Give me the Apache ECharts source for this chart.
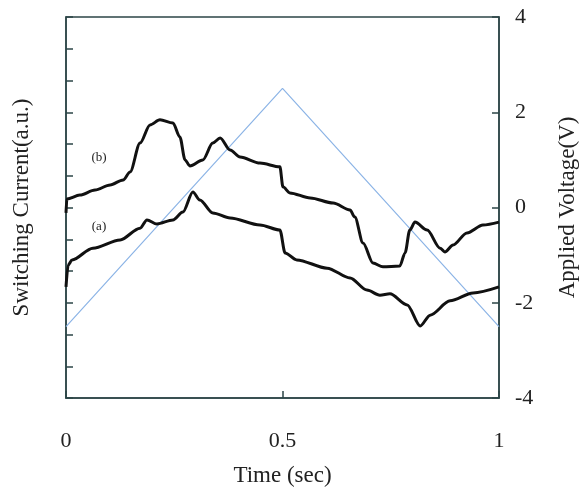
<!DOCTYPE html>
<html>
<head>
<meta charset="utf-8">
<script src="https://cdn.jsdelivr.net/npm/echarts@6/dist/echarts.min.js"></script>
<style>
  html, body { margin: 0; padding: 0; background: #ffffff; }
  #chart { width: 579px; height: 496px; }
</style>
</head>
<body>
<div id="chart"></div>
<script>
// Switching current traces (a.u.) sampled against time (s)
const timeB = [0, 0.002, 0.032, 0.067, 0.102, 0.132, 0.148, 0.171, 0.194, 0.217, 0.247, 0.263, 0.275, 0.286, 0.316, 0.339, 0.356, 0.379, 0.402, 0.448, 0.494, 0.501, 0.517, 0.564, 0.617, 0.656, 0.667, 0.686, 0.709, 0.732, 0.771, 0.783, 0.794, 0.806, 0.834, 0.864, 0.875, 0.894, 0.926, 0.963, 1.0];
const currentB = [5.83, 6.27, 6.39, 6.55, 6.71, 6.87, 7.12, 8.03, 8.60, 8.76, 8.66, 8.22, 7.50, 7.31, 7.50, 8.03, 8.19, 7.81, 7.59, 7.40, 7.28, 6.65, 6.46, 6.30, 6.14, 5.92, 5.70, 4.88, 4.25, 4.13, 4.16, 4.57, 5.29, 5.54, 5.29, 4.72, 4.60, 4.82, 5.20, 5.45, 5.54];

const timeA = [0, 0.005, 0.014, 0.062, 0.125, 0.171, 0.187, 0.210, 0.247, 0.270, 0.293, 0.309, 0.339, 0.379, 0.448, 0.494, 0.506, 0.533, 0.603, 0.656, 0.695, 0.725, 0.748, 0.788, 0.818, 0.841, 0.887, 0.940, 1.0];
const currentA = [3.50, 4.19, 4.35, 4.72, 4.98, 5.35, 5.61, 5.48, 5.61, 5.86, 6.49, 6.24, 5.83, 5.67, 5.45, 5.29, 4.57, 4.35, 4.09, 3.78, 3.40, 3.24, 3.28, 2.93, 2.27, 2.61, 3.06, 3.31, 3.50];

// Triangular applied voltage (V)
const voltageTime = [0, 0.5, 1];
const voltage = [-2.5, 2.5, -2.5];

// Axis tick labels
const timeTicks = ['0', '0.5', '1'];
const voltageTicks = ['-4', '-2', '0', '2', '4'];

const zip = (xs, ys) => xs.map((x, i) => [x, ys[i]]);

const FONT = 'Liberation Serif';
const AXIS = '#2c4547';
const TEXT = '#222222';

const chart = echarts.init(document.getElementById('chart'), null, { renderer: 'canvas' });

chart.setOption({
  animation: false,
  backgroundColor: '#ffffff',
  grid: {
    left: 66, right: 80, top: 17, bottom: 98,
    outerBoundsMode: 'none', containLabel: false,
    show: true, borderColor: AXIS, borderWidth: 1.5, backgroundColor: 'transparent'
  },
  xAxis: {
    type: 'value', min: 0, max: 1, interval: 0.5,
    name: 'Time (sec)', nameLocation: 'middle', nameGap: 66,
    nameTextStyle: { fontFamily: FONT, fontSize: 23, color: TEXT },
    axisLine: { show: true, lineStyle: { color: AXIS, width: 1.5 } },
    axisTick: { show: true, inside: true, length: 7, lineStyle: { color: AXIS, width: 1.5 } },
    axisLabel: {
      margin: 32, fontFamily: FONT, fontSize: 22, color: TEXT,
      formatter: (v) => timeTicks[Math.round(v * 2)]
    },
    splitLine: { show: false }
  },
  yAxis: [
    {
      type: 'value', min: 0, max: 12, interval: 1, position: 'left',
      name: 'Switching Current(a.u.)', nameLocation: 'middle', nameGap: 33,
      nameTextStyle: { fontFamily: FONT, fontSize: 23, color: TEXT },
      axisLine: { show: true, lineStyle: { color: AXIS, width: 1.5 } },
      axisTick: { show: true, inside: true, length: 7, lineStyle: { color: AXIS, width: 1.5 } },
      axisLabel: { show: false },
      splitLine: { show: false }
    },
    {
      type: 'value', min: -4, max: 4, interval: 2, position: 'right',
      name: 'Applied Voltage(V)', nameLocation: 'middle', nameGap: 57, nameRotate: 90,
      nameTextStyle: { fontFamily: FONT, fontSize: 23, color: TEXT },
      axisLine: { show: true, lineStyle: { color: AXIS, width: 1.5 } },
      axisTick: { show: true, inside: true, length: 7, lineStyle: { color: AXIS, width: 1.5 } },
      axisLabel: {
        margin: 16, fontFamily: FONT, fontSize: 22, color: TEXT,
        formatter: (v) => voltageTicks[Math.round((v + 4) / 2)]
      },
      splitLine: { show: false }
    }
  ],
  series: [
    {
      name: 'voltage', type: 'line', yAxisIndex: 1, data: zip(voltageTime, voltage),
      showSymbol: false, lineStyle: { color: '#8cb4e6', width: 1.2 }, z: 1
    },
    {
      name: '(b)', type: 'line', yAxisIndex: 0, data: zip(timeB, currentB),
      showSymbol: false, smooth: 0.3, smoothMonotone: 'x',
      lineStyle: { color: '#111111', width: 3 }, z: 3
    },
    {
      name: '(a)', type: 'line', yAxisIndex: 0, data: zip(timeA, currentA),
      showSymbol: false, smooth: 0.3, smoothMonotone: 'x',
      lineStyle: { color: '#111111', width: 3 }, z: 3
    }
  ],
  graphic: [
    { type: 'text', x: 99, y: 158, style: { text: '(b)', font: '13px "Liberation Serif"', fill: TEXT, align: 'center', verticalAlign: 'middle' } },
    { type: 'text', x: 99, y: 227, style: { text: '(a)', font: '13px "Liberation Serif"', fill: TEXT, align: 'center', verticalAlign: 'middle' } }
  ]
});
</script>
</body>
</html>
